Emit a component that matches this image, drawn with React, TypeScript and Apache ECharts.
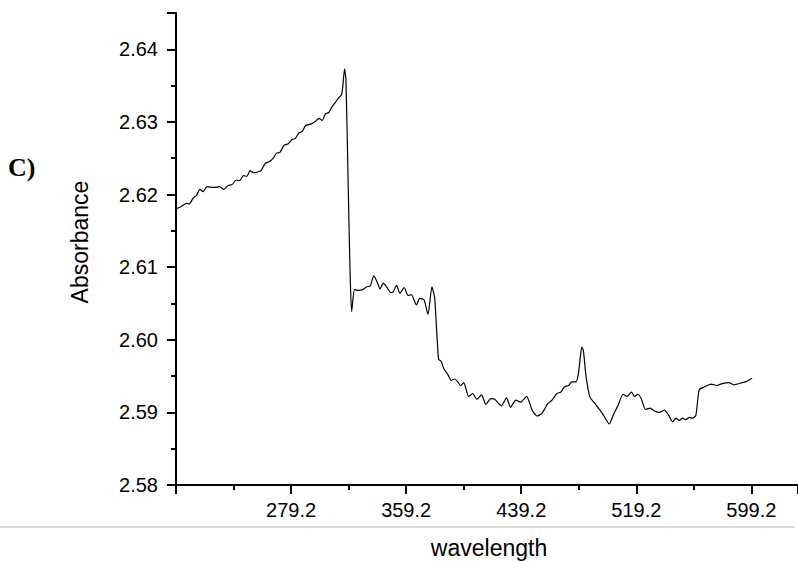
import React, { useEffect, useRef } from "react";
import * as echarts from "echarts";

const wavelength = [
  199.2, 203.1, 206.6, 208.4, 211.1, 213.5, 215.8, 218.0, 220.8, 223.8, 227.3, 229.5,
  232.3, 235.3, 238.3, 241.1, 243.3, 246.1, 248.4, 250.7, 253.0, 256.0, 258.3, 261.3,
  264.0, 266.8, 269.1, 271.4, 274.4, 277.3, 280.1, 282.0, 284.7, 287.0, 289.3, 292.8,
  296.2, 298.5, 300.8, 303.1, 305.4, 307.7, 310.0, 312.3, 314.2, 315.1, 316.4, 317.3,
  318.5, 319.4, 320.4, 321.3, 323.3, 326.1, 328.9, 331.8, 334.2, 336.7, 338.7, 341.1,
  343.3, 345.6, 348.4, 350.2, 352.5, 354.9, 357.8, 360.6, 362.9, 366.3, 368.7, 371.6,
  374.4, 377.1, 379.0, 380.6, 381.8, 383.6, 385.4, 388.2, 390.5, 392.8, 395.1, 397.0,
  399.2, 402.6, 405.4, 408.4, 411.6, 414.6, 418.0, 420.8, 422.6, 425.4, 428.9, 431.8,
  435.4, 438.7, 442.9, 446.8, 450.2, 453.7, 457.6, 460.6, 464.0, 466.8, 469.1, 472.1,
  474.4, 477.3, 479.0, 480.2, 481.3, 482.4, 484.3, 487.0, 490.5, 494.0, 496.7, 500.4,
  503.1, 506.6, 510.0, 512.8, 515.8, 518.0, 520.4, 522.6, 525.6, 528.8, 531.8, 535.2,
  538.7, 541.7, 544.5, 546.8, 549.1, 551.4, 553.7, 556.0, 558.3, 560.6, 562.9, 566.4,
  571.1, 575.1, 577.8, 583.6, 587.0, 592.8, 595.1, 599.7,
];

const absorbance = [
  2.618, 2.6184, 2.6188, 2.6187, 2.6195, 2.6199, 2.6207, 2.6204, 2.6211, 2.621, 2.621, 2.6211,
  2.6207, 2.6212, 2.6214, 2.622, 2.6219, 2.6226, 2.6225, 2.6233, 2.623, 2.6231, 2.6233, 2.6243,
  2.6245, 2.625, 2.6257, 2.6258, 2.6268, 2.627, 2.6276, 2.6277, 2.6285, 2.6287, 2.6295, 2.6297,
  2.6301, 2.6305, 2.6302, 2.6311, 2.6313, 2.6321, 2.6327, 2.6333, 2.6337, 2.6348, 2.6373, 2.6359,
  2.6254, 2.6165, 2.608, 2.6039, 2.6069, 2.6068, 2.6069, 2.6073, 2.6074, 2.6088, 2.6081, 2.607,
  2.6078, 2.6073, 2.6065, 2.6066, 2.6075, 2.6064, 2.6072, 2.6061, 2.6062, 2.6048, 2.6057, 2.6055,
  2.6035, 2.6073, 2.6058, 2.6006, 2.5973, 2.597, 2.596, 2.5952, 2.5944, 2.5946, 2.5942, 2.5937,
  2.5941, 2.5922, 2.5926, 2.5918, 2.5924, 2.5911, 2.5919, 2.5918, 2.5914, 2.5909, 2.592, 2.5907,
  2.5917, 2.5914, 2.5922, 2.5903, 2.5895, 2.5899, 2.5912, 2.5917, 2.5926, 2.5928, 2.5935, 2.5937,
  2.5942, 2.5942, 2.5954, 2.5975, 2.599, 2.5985, 2.5949, 2.5921, 2.5912, 2.5903, 2.5895, 2.5884,
  2.5896, 2.591, 2.5925, 2.5922, 2.5928, 2.5922, 2.5925, 2.5919, 2.5904, 2.5906, 2.5902, 2.59,
  2.5903, 2.5896, 2.5887, 2.5892, 2.5889, 2.5892, 2.589, 2.5893, 2.5892, 2.5896, 2.5931, 2.5935,
  2.5939, 2.5937, 2.5939, 2.5941, 2.5938, 2.5941, 2.5942, 2.5947,
];

const xMin = 199.2;
const xMax = 631.6;
const xStep = 80;
const yMin = 2.58;
const yMax = 2.645;
const yStep = 0.01;

const xTitle = "wavelength";
const yTitle = "Absorbance";
const panelLabel = "C)";

const FONT = "'Liberation Sans', Arial, sans-serif";

export default function App() {
  const ref = useRef<HTMLDivElement>(null);

  useEffect(() => {
    if (!ref.current) return;
    const chart = echarts.init(ref.current, undefined, { renderer: "svg" });
    const data = wavelength.map((w, i) => [w, absorbance[i]]);
    chart.setOption({
      animation: false,
      backgroundColor: "#ffffff",
      grid: { left: 176, right: -5, top: 13, bottom: 77, containLabel: false },
      xAxis: {
        type: "value",
        min: xMin,
        max: xMax,
        interval: xStep,
        splitLine: { show: false },
        axisLine: { show: true, onZero: false, lineStyle: { color: "#000", width: 2 } },
        axisTick: { show: true, length: 9, lineStyle: { color: "#000", width: 2 } },
        minorTick: { show: true, splitNumber: 2, length: 5, lineStyle: { color: "#000", width: 2 } },
        axisLabel: {
          showMinLabel: false,
          showMaxLabel: false,
          margin: 15,
          color: "#000",
          fontFamily: FONT,
          fontSize: 20,
          formatter: (v: number) => v.toFixed(1),
        },
      },
      yAxis: {
        type: "value",
        min: yMin,
        max: yMax,
        interval: yStep,
        splitLine: { show: false },
        axisLine: { show: true, onZero: false, lineStyle: { color: "#000", width: 2 } },
        axisTick: { show: true, length: 9, lineStyle: { color: "#000", width: 2 } },
        minorTick: { show: true, splitNumber: 2, length: 5, lineStyle: { color: "#000", width: 2 } },
        axisLabel: {
          showMaxLabel: false,
          margin: 18,
          color: "#000",
          fontFamily: FONT,
          fontSize: 20,
          formatter: (v: number) => v.toFixed(2),
        },
      },
      series: [
        {
          type: "line",
          data,
          showSymbol: false,
          symbol: "none",
          smooth: 0.2,
          lineStyle: { color: "#000", width: 1.2 },
          silent: true,
        },
      ],
      graphic: [
        {
          type: "line",
          shape: { x1: 0, y1: 527, x2: 795, y2: 527 },
          style: { stroke: "#d9d9d9", lineWidth: 2 },
          silent: true,
        },
        {
          type: "text",
          x: 489,
          y: 548,
          style: {
            text: xTitle,
            fill: "#000",
            font: `23px ${FONT}`,
            textAlign: "center",
            textVerticalAlign: "middle",
          },
        },
        {
          type: "text",
          x: 80,
          y: 242,
          rotation: Math.PI / 2,
          style: {
            text: yTitle,
            fill: "#000",
            font: `23px ${FONT}`,
            textAlign: "center",
            textVerticalAlign: "middle",
          },
        },
        {
          type: "text",
          x: 8,
          y: 167,
          style: {
            text: panelLabel,
            fill: "#000",
            font: `bold 26px 'Liberation Serif', 'Times New Roman', serif`,
            textAlign: "left",
            textVerticalAlign: "middle",
          },
        },
      ],
    });
    return () => chart.dispose();
  }, []);

  return (
    <div
      ref={ref}
      style={{ position: "fixed", left: 0, top: 0, width: 798, height: 562, background: "#fff" }}
    />
  );
}
